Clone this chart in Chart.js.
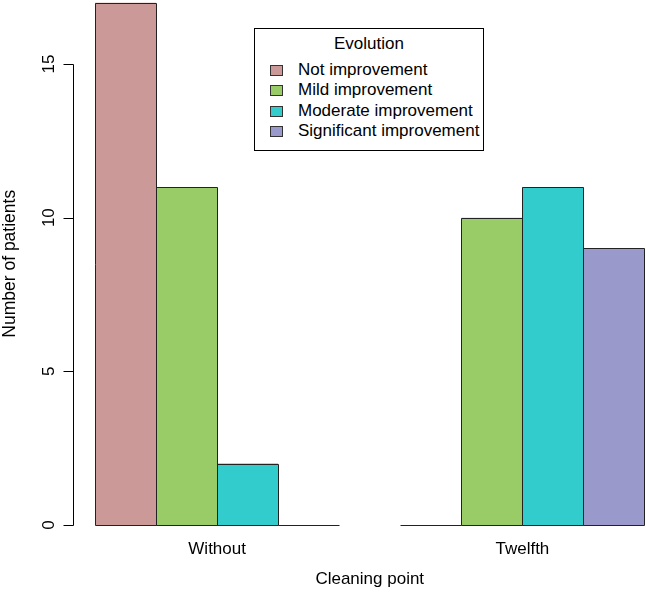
<!DOCTYPE html>
<html lang="en">
<head>
    <meta charset="UTF-8">
    <title>Evolution by cleaning point</title>
    <style>
        body {
            margin: 0;
            overflow: hidden;
            background: #fff;
            font-family: "Liberation Sans", Arial, sans-serif;
        }
        #wrap {
            position: relative;
            width: 646px;
            height: 594px;
            overflow: hidden;
        }
        #legendBox {
            position: absolute;
            left: 254px;
            top: 28px;
            width: 230px;
            height: 123px;
            box-sizing: border-box;
            border: 1px solid #000;
            background: #fff;
            font-size: 17px;
            color: #000;
        }
        #legendBox .title {
            position: absolute;
            left: 0;
            right: 0;
            top: 5px;
            line-height: 20px;
            text-align: center;
        }
        #legendBox .row {
            position: absolute;
            left: 15px;
            height: 20px;
            line-height: 20px;
            white-space: nowrap;
        }
        #legendBox .swatch {
            display: inline-block;
            width: 11px;
            height: 9px;
            border: 1px solid #333;
            margin-right: 15px;
            vertical-align: -1px;
        }
    </style>
</head>
<body>
    <div id="wrap">
        <canvas id="barChart" width="675" height="594"></canvas>
        <div id="legendBox"></div>
    </div>
    <script src="https://cdn.jsdelivr.net/npm/chart.js"></script>
    <script>
        const groups = ["Without", "Twelfth"];
        const seriesNames = ["Not improvement", "Mild improvement", "Moderate improvement", "Significant improvement"];
        const notImprovement = [17, 0];
        const mildImprovement = [11, 10];
        const moderateImprovement = [2, 11];
        const significantImprovement = [0, 9];
        const yTicks = [0, 5, 10, 15];

        const seriesValues = [notImprovement, mildImprovement, moderateImprovement, significantImprovement];
        const colors = ["#CC9999", "#99CC66", "#33CCCC", "#9999CC"];
        const font = { family: "'Liberation Sans', Arial, sans-serif", size: 17 };

        // R-style outlines (one shared line between bars) and the hand-drawn left axis
        const rStyle = {
            id: "rStyle",
            afterDatasetsDraw(chart) {
                const ctx = chart.ctx;
                ctx.save();
                ctx.strokeStyle = "#222";
                ctx.lineWidth = 1;
                chart.data.datasets.forEach((ds, i) => {
                    chart.getDatasetMeta(i).data.forEach(bar => {
                        const left = Math.round(bar.x - bar.width / 2) + 0.5;
                        const right = Math.round(bar.x + bar.width / 2) + 0.5;
                        const top = Math.round(bar.y) + 0.5;
                        const base = Math.round(bar.base) + 0.5;
                        ctx.beginPath();
                        if (top === base) {
                            ctx.moveTo(left, base);
                            ctx.lineTo(right, base);
                        } else {
                            ctx.rect(left, top, right - left, base - top);
                        }
                        ctx.stroke();
                    });
                });
                ctx.restore();
            },
            afterDraw(chart) {
                const ctx = chart.ctx;
                const x = chart.scales.x;
                const y = chart.scales.y;
                const unit = (x.getPixelForValue(1) - x.getPixelForValue(0)) / 5;
                const axisX = Math.round(x.getPixelForValue(0) - 2.36 * unit) + 0.5;
                const y0 = Math.round(y.getPixelForValue(yTicks[0])) + 0.5;
                const y1 = Math.round(y.getPixelForValue(yTicks[yTicks.length - 1])) + 0.5;
                ctx.save();
                ctx.strokeStyle = "#000";
                ctx.lineWidth = 1;
                ctx.beginPath();
                ctx.moveTo(axisX, y0);
                ctx.lineTo(axisX, y1);
                yTicks.forEach(v => {
                    const py = Math.round(y.getPixelForValue(v)) + 0.5;
                    ctx.moveTo(axisX, py);
                    ctx.lineTo(axisX - 10, py);
                });
                ctx.stroke();
                ctx.fillStyle = "#000";
                ctx.font = "17px 'Liberation Sans', Arial, sans-serif";
                ctx.textAlign = "center";
                ctx.textBaseline = "middle";
                yTicks.forEach(v => {
                    ctx.save();
                    ctx.translate(axisX - 24, y.getPixelForValue(v));
                    ctx.rotate(-Math.PI / 2);
                    ctx.fillText(String(v), 0, 0);
                    ctx.restore();
                });
                ctx.restore();
            }
        };

        const ctx = document.getElementById("barChart").getContext("2d");
        const chart = new Chart(ctx, {
            type: "bar",
            data: {
                labels: groups,
                datasets: seriesNames.map((name, i) => ({
                    label: name,
                    data: seriesValues[i],
                    backgroundColor: colors[i],
                    borderWidth: 0
                }))
            },
            plugins: [rStyle],
            options: {
                responsive: false,
                animation: false,
                layout: { padding: { top: 2.5, left: 0, right: 0, bottom: 0 } },
                datasets: { bar: { categoryPercentage: 0.8, barPercentage: 1.0 } },
                plugins: {
                    legend: { display: false },
                    tooltip: { enabled: false }
                },
                scales: {
                    x: {
                        grid: { display: false, drawTicks: false },
                        border: { display: false },
                        ticks: { color: "#000", font: font, padding: 14, maxRotation: 0, autoSkip: false },
                        title: { display: true, text: "Cleaning point", color: "#000", font: font, padding: { top: 10, bottom: 4 } },
                        afterFit: s => { s.height = 69; }
                    },
                    y: {
                        min: 0,
                        max: 17,
                        grid: { display: false, drawTicks: false },
                        border: { display: false },
                        ticks: { display: false },
                        title: { display: true, text: "Number of patients", color: "#000", font: { family: font.family, size: 17.5 }, padding: { top: 0, bottom: 0 } },
                        afterFit: s => { s.width = 64.5; }
                    }
                }
            }
        });

        // legend built from the same names and colours
        const box = document.getElementById("legendBox");
        const title = document.createElement("div");
        title.className = "title";
        title.textContent = "Evolution";
        box.appendChild(title);
        seriesNames.forEach((name, i) => {
            const row = document.createElement("div");
            row.className = "row";
            row.style.top = (31 + i * 20.3) + "px";
            const sw = document.createElement("span");
            sw.className = "swatch";
            sw.style.background = colors[i];
            row.appendChild(sw);
            row.appendChild(document.createTextNode(name));
            box.appendChild(row);
        });
    </script>
</body>
</html>
